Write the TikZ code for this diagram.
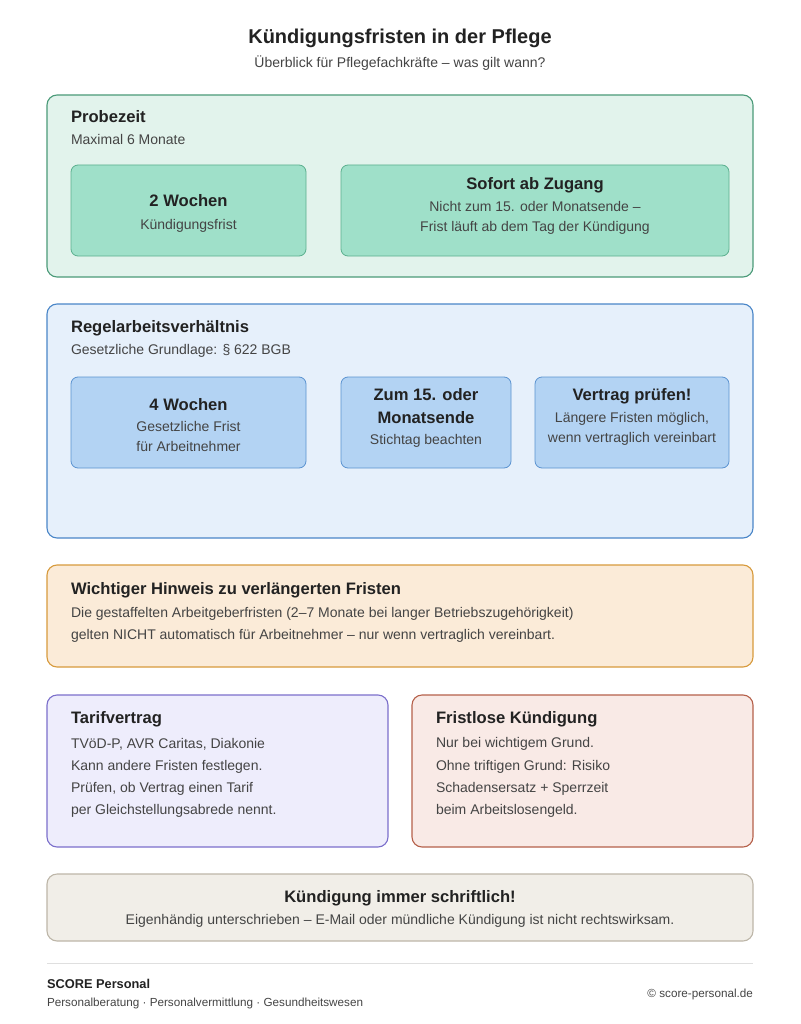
\documentclass[tikz,border=0pt]{standalone}
\usepackage{fontspec}
\setmainfont{Liberation Sans}
\definecolor{grnfill}{HTML}{E2F3EC}\definecolor{grnline}{HTML}{4A9A78}
\definecolor{grnin}{HTML}{9FE0C9}\definecolor{grninline}{HTML}{5BAF8E}
\definecolor{blufill}{HTML}{E6F0FB}\definecolor{bluline}{HTML}{4A86C8}
\definecolor{bluin}{HTML}{B3D3F3}\definecolor{bluinline}{HTML}{5B93D0}
\definecolor{orafill}{HTML}{FBEBD8}\definecolor{oraline}{HTML}{D79A3C}
\definecolor{vilfill}{HTML}{EEEDFC}\definecolor{villine}{HTML}{7B6FCB}
\definecolor{redfill}{HTML}{F9EAE6}\definecolor{redline}{HTML}{B5604A}
\definecolor{gryfill}{HTML}{F1EEE8}\definecolor{gryline}{HTML}{BDB6A8}
\definecolor{txt}{HTML}{222222}\definecolor{sub}{HTML}{444444}
\begin{document}
\begin{tikzpicture}[x=1pt, y=-1pt, text=txt,
    panel/.style = {rounded corners=10pt, line width=1.1pt},
    inbox/.style = {rounded corners=7pt, line width=0.8pt},
    head/.style = {anchor=west, font=\fontsize{16.6}{19}\selectfont\bfseries},
    line/.style = {anchor=west, font=\fontsize{14}{22}\selectfont, text=sub, align=left},
    ctitle/.style = {font=\fontsize{16.6}{19}\selectfont\bfseries, align=center},
    cline/.style = {font=\fontsize{14}{20}\selectfont, text=sub, align=center}]
    \useasboundingbox (0,0) rectangle (800,1024);

    % title
    \node (title) at (400,38) {\fontsize{20}{22}\selectfont\bfseries Kündigungsfristen in der Pflege};
    \node[cline] (subtitle) at (400,63) {Überblick für Pflegefachkräfte – was gilt wann?};

    % Probezeit
    \draw[panel, fill=grnfill, draw=grnline] (47,95) rectangle (753,277);
    \node[head] (probe) at (67.5,117) {Probezeit};
    \node[line] (probesub) at (67.5,139) {Maximal 6 Monate};
    \draw[inbox, fill=grnin, draw=grninline] (71,165) rectangle (306,256);
    \draw[inbox, fill=grnin, draw=grninline] (341,165) rectangle (729,256);
    \node[ctitle] (zwei) at (188.5,201) {2 Wochen};
    \node[cline] (zweisub) at (188.5,226) {Kündigungsfrist};
    \node[ctitle] (sofort) at (535,185) {Sofort ab Zugang};
    \node[cline] (sofortsub) at (535,218) {Nicht zum 15. oder Monatsende –\\Frist läuft ab dem Tag der Kündigung};

    % Regelarbeitsverhaeltnis
    \draw[panel, fill=blufill, draw=bluline] (47,304) rectangle (753,538);
    \node[head] (regel) at (67.5,328) {Regelarbeitsverhältnis};
    \node[line] (regelsub) at (67.5,351) {Gesetzliche Grundlage: § 622 BGB};
    \draw[inbox, fill=bluin, draw=bluinline] (71,377) rectangle (306,468);
    \draw[inbox, fill=bluin, draw=bluinline] (341,377) rectangle (511,468);
    \draw[inbox, fill=bluin, draw=bluinline] (535,377) rectangle (729,468);
    \node[ctitle] (vier) at (188.5,405) {4 Wochen};
    \node[cline] (viersub) at (188.5,436) {Gesetzliche Frist\\für Arbeitnehmer};
    \node[ctitle, font=\fontsize{16.6}{23}\selectfont\bfseries] (stich) at (426,406) {Zum 15. oder\\Monatsende};
    \node[cline] (stichsub) at (426,441) {Stichtag beachten};
    \node[ctitle] (vertrag) at (632,396) {Vertrag prüfen!};
    \node[cline] (vertragsub) at (632,429) {Längere Fristen möglich,\\wenn vertraglich vereinbart};

    % Hinweis
    \draw[panel, fill=orafill, draw=oraline] (47,565) rectangle (753,667);
    \node[head] (hinweis) at (67.5,590) {Wichtiger Hinweis zu verlängerten Fristen};
    \node[line] (hinweissub) at (67.5,625) {Die gestaffelten Arbeitgeberfristen (2–7 Monate bei langer Betriebszugehörigkeit)\\gelten NICHT automatisch für Arbeitnehmer – nur wenn vertraglich vereinbart.};

    % Tarifvertrag
    \draw[panel, fill=vilfill, draw=villine] (47,695) rectangle (388,847);
    \node[head] (tarif) at (67.5,719) {Tarifvertrag};
    \node[line] (tarifsub) at (67.5,744) {TVöD-P, AVR Caritas, Diakonie};
    \node[line] (tariftext) at (67.5,789) {Kann andere Fristen festlegen.\\Prüfen, ob Vertrag einen Tarif\\per Gleichstellungsabrede nennt.};

    % Fristlose Kuendigung
    \draw[panel, fill=redfill, draw=redline] (412,695) rectangle (753,847);
    \node[head] (fristlos) at (432.5,719) {Fristlose Kündigung};
    \node[line] (fristlossub) at (432.5,744) {Nur bei wichtigem Grund.};
    \node[line] (fristlostext) at (432.5,789) {Ohne triftigen Grund: Risiko\\Schadensersatz + Sperrzeit\\beim Arbeitslosengeld.};

    % schriftlich
    \draw[panel, fill=gryfill, draw=gryline] (47,874) rectangle (753,941);
    \node[ctitle] (schrift) at (400,898) {Kündigung immer schriftlich!};
    \node[cline] (schriftsub) at (400,921) {Eigenhändig unterschrieben – E-Mail oder mündliche Kündigung ist nicht rechtswirksam.};

    % footer
    \draw[gray!25, line width=0.8pt] (47,963) -- (753,963);
    \node[anchor=west, font=\fontsize{12.8}{14}\selectfont\bfseries] (firma) at (43.5,984) {SCORE Personal};
    \node[anchor=west, font=\fontsize{11.7}{14}\selectfont, text=sub] (firmasub) at (43.5,1003) {Personalberatung · Personalvermittlung · Gesundheitswesen};
    \node[anchor=east, font=\fontsize{11.7}{14}\selectfont, text=sub] (web) at (756.5,994) {© score-personal.de};
\end{tikzpicture}
\end{document}
